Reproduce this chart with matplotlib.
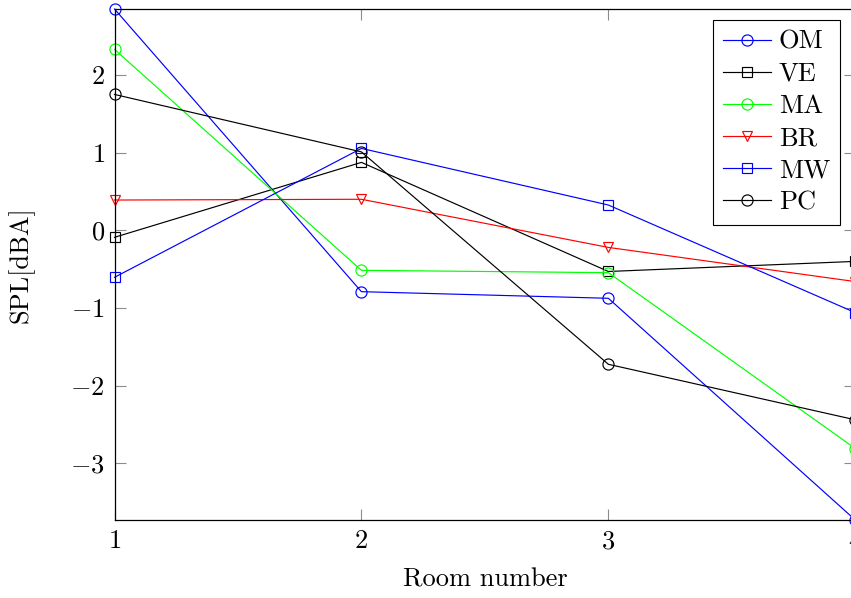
import matplotlib
matplotlib.use("Agg")
import matplotlib.pyplot as plt

# Sound pressure level per room, one series per source
rooms = [1, 2, 3, 4]
om = [2.85, -0.79, -0.875, -3.73]
ve = [-0.09, 0.875, -0.53, -0.40]
ma = [2.33, -0.515, -0.545, -2.81]
br = [0.39, 0.40, -0.22, -0.66]
mw = [-0.605, 1.055, 0.326, -1.06]
pc = [1.75, 1.01, -1.725, -2.44]

series = [
    ("OM", om, "blue", "o", 8),
    ("VE", ve, "black", "s", 7.5),
    ("MA", ma, "#00ff00", "o", 8),
    ("BR", br, "red", "v", 6.5),
    ("MW", mw, "blue", "s", 7.5),
    ("PC", pc, "black", "o", 8),
]

plt.rcParams["font.family"] = "serif"
plt.rcParams["font.serif"] = ["cmr10"]
plt.rcParams["mathtext.fontset"] = "cm"
plt.rcParams["axes.formatter.use_mathtext"] = True
plt.rcParams["font.size"] = 19

fig = plt.figure(figsize=(8.51, 5.98), dpi=100)
ax = fig.add_axes([114.5 / 851, 78 / 598, 740.8 / 851, 511 / 598])

for name, vals, col, mk, ms in series:
    ax.plot(rooms, vals, color=col, lw=0.85, marker=mk, markersize=ms,
            markerfacecolor="none", markeredgecolor=col, markeredgewidth=0.85,
            label=name, clip_on=False)

allvals = om + ve + ma + br + mw + pc
ax.set_xlim(1, 4)
ax.set_ylim(min(allvals), max(allvals))
ax.set_xticks(rooms)
ax.set_yticks([-3, -2, -1, 0, 1, 2])

ax.tick_params(direction="in", length=8, width=0.8, color="0.55",
               labelcolor="black", top=True, right=True, pad=7)
for sp in ax.spines.values():
    sp.set_linewidth(0.9)
    sp.set_color("black")

ax.set_xlabel("Room number")
ax.set_ylabel("SPL[dBA]")
ax.xaxis.set_label_coords(0.5, -0.093)
ax.yaxis.set_label_coords(-0.108, 0.5)

leg = ax.legend(loc="upper right", bbox_to_anchor=(840 / 851, 1 - 20 / 598),
                bbox_transform=fig.transFigure, borderaxespad=0,
                fancybox=False, framealpha=1, edgecolor="black",
                labelspacing=0.32, handlelength=1.8, handletextpad=0.3,
                borderpad=0.38, numpoints=1)
leg.get_frame().set_linewidth(0.8)

fig.savefig("out.png", dpi=100)
